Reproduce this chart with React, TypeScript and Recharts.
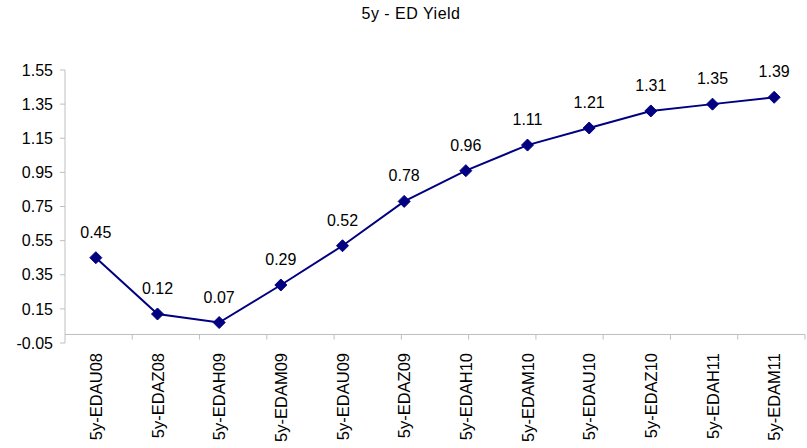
import React from 'react';
import {
  LineChart,
  Line,
  XAxis,
  YAxis,
  ReferenceLine,
  LabelList,
} from 'recharts';

const contracts = [
  '5y-EDAU08', '5y-EDAZ08', '5y-EDAH09', '5y-EDAM09', '5y-EDAU09', '5y-EDAZ09',
  '5y-EDAH10', '5y-EDAM10', '5y-EDAU10', '5y-EDAZ10', '5y-EDAH11', '5y-EDAM11',
];
const yields = [0.45, 0.12, 0.07, 0.29, 0.52, 0.78, 0.96, 1.11, 1.21, 1.31, 1.35, 1.39];
const yTicks = [-0.05, 0.15, 0.35, 0.55, 0.75, 0.95, 1.15, 1.35, 1.55];

const NAVY = '#000080';
const AXIS = '#bfbfbf';
const FONT = '"Liberation Sans", Arial, sans-serif';

const data = contracts.map((name, i) => ({ name, y: yields[i] }));
// boundaries between categories, for the tick marks under the zero line
const boundaries = contracts.map((_, i) => i + 1);

// Diamond marker
const Diamond = (props: any) => {
  const { cx, cy, index } = props;
  if (cx == null || cy == null) return null;
  const r = 6;
  return (
    <polygon
      key={`d-${index}`}
      points={`${cx},${cy - r} ${cx + r},${cy} ${cx},${cy + r} ${cx - r},${cy}`}
      fill={NAVY}
      stroke={NAVY}
    />
  );
};

// Rotated category label
const CategoryTick = (props: any) => {
  const { x, y, payload } = props;
  return (
    <text
      x={x}
      y={y + 10}
      transform={`rotate(-90, ${x}, ${y + 10})`}
      textAnchor="end"
      dominantBaseline="central"
      fontFamily={FONT}
      fontSize={16.5}
      fill="#000"
    >
      {payload.value}
    </text>
  );
};

export default function App() {
  return (
    <div style={{ position: 'absolute', left: 0, top: 0, width: 807, height: 448, background: '#fff' }}>
      <div
        style={{
          position: 'absolute',
          left: 0,
          top: 4,
          width: 822,
          textAlign: 'center',
          fontFamily: FONT,
          fontSize: 16,
          letterSpacing: '0.5px',
          lineHeight: '20px',
          color: '#000',
        }}
      >
        5y - ED Yield
      </div>
      <LineChart
        width={807}
        height={448}
        data={data}
        margin={{ top: 70, right: 2, left: 0, bottom: 0 }}
      >
        <XAxis
          dataKey="name"
          scale="band"
          interval={0}
          axisLine={false}
          tickLine={false}
          tickSize={0}
          tickMargin={0}
          height={105}
          tick={<CategoryTick />}
        />
        <XAxis xAxisId="num" type="number" domain={[0, 12]} hide />
        <YAxis
          domain={[-0.05, 1.55]}
          ticks={yTicks}
          interval={0}
          width={65}
          axisLine={{ stroke: AXIS }}
          tickLine={{ stroke: AXIS }}
          tickSize={5}
          tickMargin={7}
          tick={{ fill: '#000', fontSize: 16, fontFamily: FONT }}
          tickFormatter={(v: number) => v.toFixed(2)}
        />
        <ReferenceLine y={0} stroke={AXIS} strokeWidth={1} />
        {boundaries.map((b) => (
          <ReferenceLine
            key={b}
            xAxisId="num"
            stroke={AXIS}
            segment={[{ x: b, y: 0 }, { x: b, y: -0.03 }]}
          />
        ))}
        <Line
          dataKey="y"
          stroke={NAVY}
          strokeWidth={2}
          dot={<Diamond />}
          activeDot={false}
          isAnimationActive={false}
        >
          <LabelList
            dataKey="y"
            position="top"
            offset={20}
            fill="#000"
            fontSize={16}
            fontFamily={FONT}
            formatter={(v: number) => v.toFixed(2)}
          />
        </Line>
      </LineChart>
    </div>
  );
}
